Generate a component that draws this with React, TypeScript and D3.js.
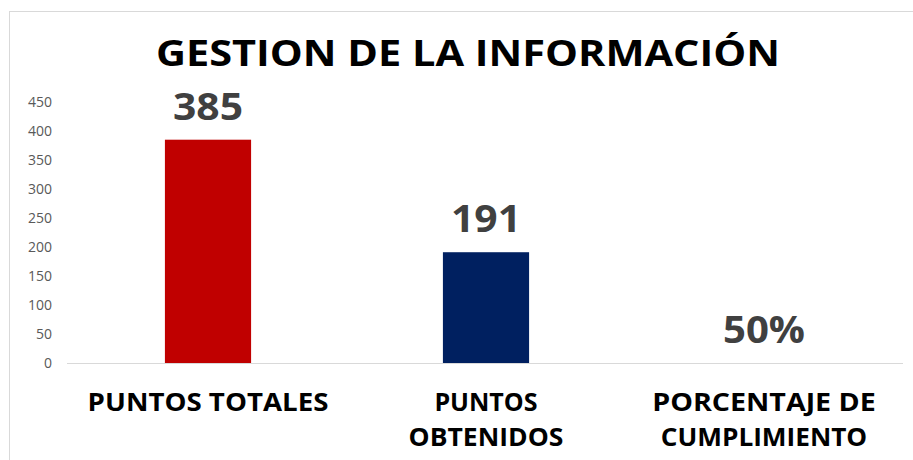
import React from "react";
import * as d3 from "d3";

const categories = [["PUNTOS TOTALES"], ["PUNTOS", "OBTENIDOS"], ["PORCENTAJE DE", "CUMPLIMIENTO"]];
const values = [385, 191, 0.5];
const valueLabels = ["385", "191", "50%"];
const barColors = ["#C00000", "#002060", "#FFFFFF"];
const yTicks = [0, 50, 100, 150, 200, 250, 300, 350, 400, 450];
const title = "GESTION DE LA INFORMACIÓN";

export default function App() {
  const W = 913, H = 460;
  const left = 69, right = 903, top = 102, bottom = 363;
  const x = d3.scaleBand<number>().domain(d3.range(values.length)).range([left, right]).paddingInner(0.69).paddingOuter(0.345);
  const y = d3.scaleLinear().domain([0, 450]).range([bottom, top]);
  const font = "'Open Sans', 'DejaVu Sans', sans-serif";
  const charW = 17.2;
  return (
    <svg width={W} height={H} style={{ position: "absolute", left: 0, top: 0, background: "#fff" }}>
      <rect x={9.5} y={11.5} width={W + 10} height={H + 10} fill="#fff" stroke="#d9d9d9" strokeWidth={1} />
      <text x={468} y={66} textAnchor="middle" fontFamily={font} fontWeight={700} fontSize={36} fill="#000" textLength={624} lengthAdjust="spacingAndGlyphs">{title}</text>
      {yTicks.map((t) => (
        <text key={t} x={52} y={y(t) + 5} textAnchor="end" fontFamily={font} fontSize={14} fill="#595959">{t}</text>
      ))}
      <line x1={67} x2={right} y1={bottom + 0.5} y2={bottom + 0.5} stroke="#d9d9d9" strokeWidth={1} />
      {values.map((v, i) => {
        const bx = x(i)!;
        const bw = x.bandwidth();
        const cx = bx + bw / 2;
        return (
          <g key={i}>
            {i < 2 && <rect x={bx} y={y(v)} width={bw} height={bottom - y(v)} fill={barColors[i]} />}
            <text x={cx} y={y(v) - 20} textAnchor="middle" fontFamily={font} fontWeight={700} fontSize={38} fill="#404040" textLength={i < 2 ? 70 : 82} lengthAdjust="spacingAndGlyphs">{valueLabels[i]}</text>
            {categories[i].map((line, j) => (
              <text key={j} x={cx} y={411 + j * 35} textAnchor="middle" fontFamily={font} fontWeight={700} fontSize={25} fill="#000" textLength={line.length * charW} lengthAdjust="spacingAndGlyphs">{line}</text>
            ))}
          </g>
        );
      })}
    </svg>
  );
}
